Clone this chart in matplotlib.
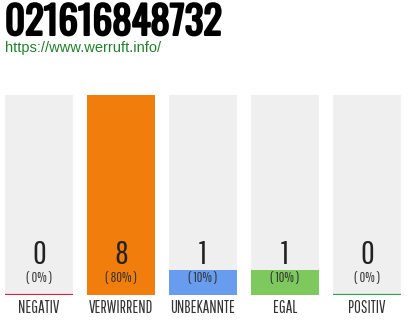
import matplotlib
matplotlib.use('Agg')
import matplotlib.pyplot as plt
import matplotlib.patheffects as pe

# data
title = '021616848732'
url = 'https://www.werruft.info/'
categories = ['NEGATIV', 'VERWIRREND', 'UNBEKANNTE', 'EGAL', 'POSITIV']
counts = [0, 8, 1, 1, 0]
percents = [0, 80, 10, 10, 0]
colors = ['#e21f3c', '#f17d0c', '#679cef', '#7dc95e', '#1ea84b']

TITLE_FONT = ['Oswald', 'Roboto Condensed', 'DejaVu Sans']
LABEL_FONT = ['Pathway Gothic One', 'Oswald', 'DejaVu Sans']

W, H = 410, 320
fig = plt.figure(figsize=(W / 100, H / 100), dpi=100)

# bar area: 95px..295px from top, bars 68px wide every 82px starting at x=5
top, bottom = 95, 295
ax = fig.add_axes([0, (H - bottom) / H, 1, (bottom - top) / H])
step, bw, x0 = 82, 68, 39
ax.set_xlim(-x0 / step, (W - x0) / step)
ymax = max(counts)
ax.set_ylim(0, ymax)
ax.axis('off')

xs = range(len(categories))
ax.bar(xs, [ymax] * len(categories), width=bw / step, color='#efefef', linewidth=0)
ax.bar(xs, counts, width=bw / step, color=colors, linewidth=0)
for i, c in zip(xs, colors):
    ax.plot([i - bw / step / 2, i + bw / step / 2], [0, 0], color=c, lw=1.6,
            solid_capstyle='butt')


def px(x, y):
    return x / W, 1 - y / H


for i, (cat, n, p) in enumerate(zip(categories, counts, percents)):
    cx = x0 + i * step
    fig.text(*px(cx, 263.5), str(n), ha='center', va='baseline',
             fontsize=24, family=LABEL_FONT, color='#222222')
    fig.text(*px(cx, 282.5), f'( {p}% )', ha='center', va='baseline',
             fontsize=10, family=LABEL_FONT, color='#333333')
    fig.text(*px(cx, 313), cat, ha='center', va='baseline',
             fontsize=12, family=LABEL_FONT, color='#333333')

t = fig.text(*px(5, 35), title, ha='left', va='baseline', fontsize=28,
             family=TITLE_FONT, color='#000000')
t.set_path_effects([pe.withStroke(linewidth=1.5, foreground='#000000')])
fig.text(*px(5, 48), url, ha='left', va='center', fontsize=10.5,
         family='Liberation Sans', color='#23802a')

fig.savefig('out.png', dpi=100)
